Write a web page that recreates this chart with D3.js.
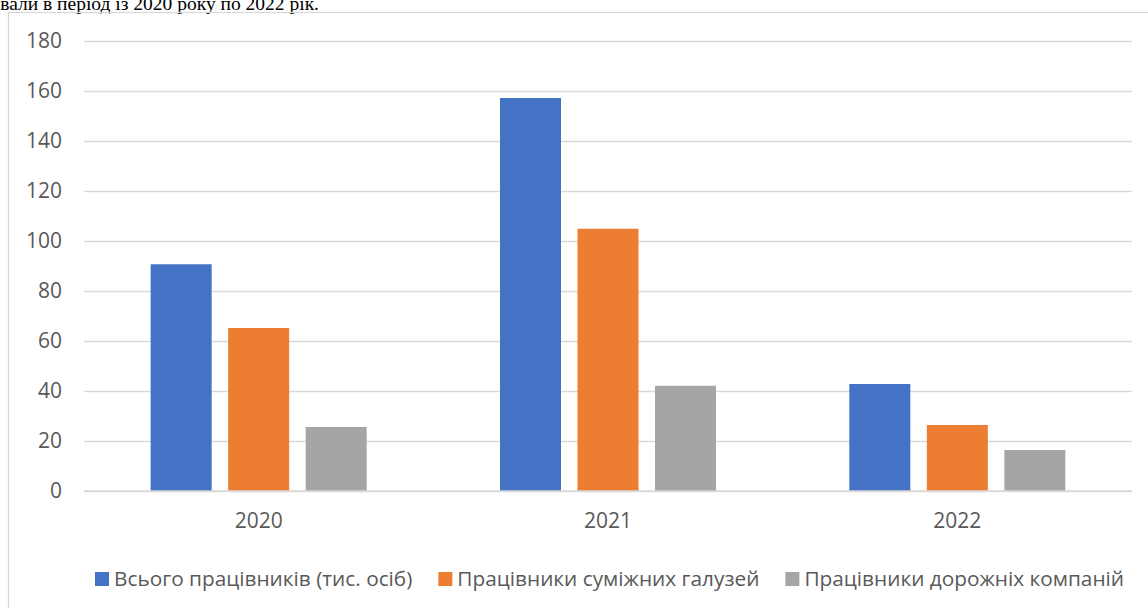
<!DOCTYPE html>
<html><head><meta charset="utf-8">
<script src="https://cdn.jsdelivr.net/npm/d3@7/dist/d3.min.js"></script>
<style>html,body{margin:0;padding:0;background:#fff;overflow:hidden}</style>
</head><body>
<svg id="c" width="1148" height="608"></svg>
<script>
const categories = ["2020", "2021", "2022"];
const seriesNames = ["Всього працівників (тис. осіб)", "Працівники суміжних галузей", "Працівники дорожніх компаній"];
const totalWorkers = [90.7, 157.2, 42.8];
const relatedIndustries = [65.2, 104.9, 26.4];
const roadCompanies = [25.6, 42.1, 16.4];
const yTicks = [0, 20, 40, 60, 80, 100, 120, 140, 160, 180];
const colors = ["#4472C4", "#ED7D31", "#A5A5A5"];
const captionText = "вали в період із 2020 року по 2022 рік.";

(function () {
const seriesValues = [totalWorkers, relatedIndustries, roadCompanies];
const svg = d3.select("#c");
const font = "'Open Sans', 'Noto Sans', sans-serif";
const textColor = "#595959";

// caption text above (cut off by the page edge, as in the source)
svg.append("text").attr("x", 319).attr("y", 9.5).attr("text-anchor", "end")
  .attr("font-family", "'Liberation Serif', 'Times New Roman', serif")
  .attr("font-size", 19.5).attr("fill", "#000").text(captionText);

// chart border
svg.append("rect").attr("x", 8.5).attr("y", 12.5).attr("width", 1200).attr("height", 700)
  .attr("fill", "none").attr("stroke", "#d9d9d9").attr("stroke-width", 1.25);

const pl = 84, pr = 1132, pt = 41, pb = 491;
const y = d3.scaleLinear().domain([0, 180]).range([pb, pt]);
const x0 = d3.scaleBand().domain(categories).range([pl, pr]).paddingInner(0.3816).paddingOuter(0.1908);
const x1 = d3.scaleBand().domain(d3.range(seriesNames.length)).range([0, x0.bandwidth()]).paddingInner(0.213).paddingOuter(0);

// gridlines
const grid = svg.append("g").attr("transform", `translate(${pl},0)`)
  .call(d3.axisLeft(y).tickValues(yTicks).tickSize(-(pr - pl)).tickFormat(""));
grid.select(".domain").remove();
grid.selectAll("line").attr("stroke", "#d9d9d9").attr("stroke-width", 1.3);

// y labels
const yAxis = svg.append("g").attr("transform", `translate(${pl},0)`)
  .call(d3.axisLeft(y).tickValues(yTicks).tickSize(0).tickPadding(22).tickFormat(d3.format("d")));
yAxis.select(".domain").remove();
yAxis.selectAll("text").attr("font-family", font).attr("font-size", 21).attr("fill", textColor);

// bars
const groups = svg.append("g").selectAll("g").data(categories).join("g")
  .attr("transform", d => `translate(${x0(d)},0)`);
groups.selectAll("rect").data((c, ci) => seriesValues.map((s, si) => ({si, v: s[ci]}))).join("rect")
  .attr("x", d => x1(d.si)).attr("width", x1.bandwidth())
  .attr("y", d => y(d.v)).attr("height", d => y(0) - y(d.v))
  .attr("fill", d => colors[d.si]);

// x axis line
svg.append("line").attr("x1", pl).attr("x2", pr).attr("y1", y(0)).attr("y2", y(0))
  .attr("stroke", "#d9d9d9").attr("stroke-width", 1.5);

// x labels
const xAxis = svg.append("g").attr("transform", `translate(0,${pb})`)
  .call(d3.axisBottom(x0).tickSize(0).tickPadding(22));
xAxis.select(".domain").remove();
xAxis.selectAll("text").attr("font-family", font).attr("font-size", 21).attr("fill", textColor);

// legend
const legend = svg.append("g");
let lx = 95;
seriesNames.forEach((name, i) => {
  legend.append("rect").attr("x", lx).attr("y", 572).attr("width", 14).attr("height", 14).attr("fill", colors[i]);
  const t = legend.append("text").attr("x", lx + 19).attr("y", 586)
    .attr("font-family", font).attr("font-size", 20.8).attr("fill", textColor).text(name);
  const w = t.node().getComputedTextLength();
  lx = lx + 19 + w + 26;
});
})();
</script>
</body></html>
